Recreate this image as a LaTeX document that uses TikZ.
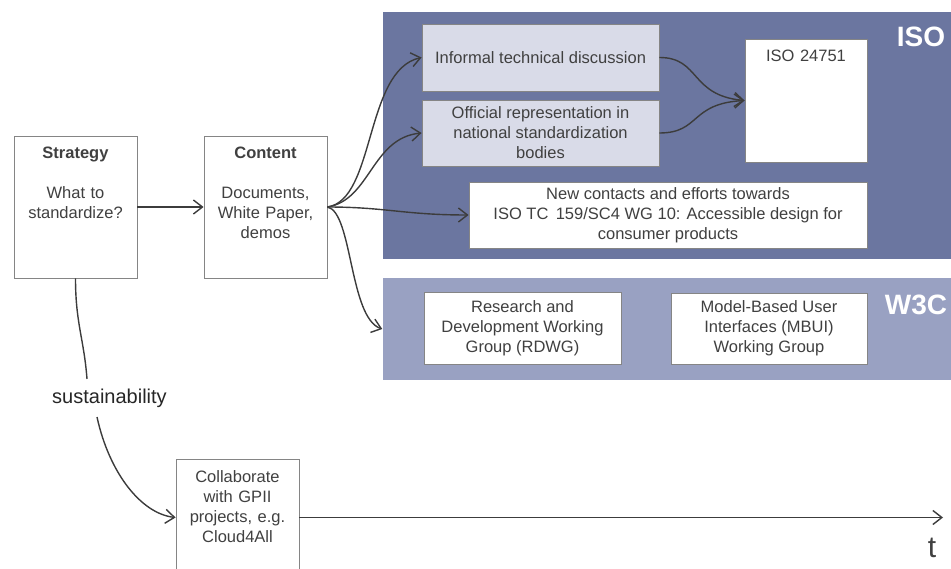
\documentclass[tikz,border=0pt]{standalone}
\usepackage{fontspec}
\setmainfont{Liberation Sans}
\usetikzlibrary{arrows.meta}
\definecolor{isoblue}{HTML}{6B76A0}
\definecolor{wblue}{HTML}{99A1C2}
\definecolor{lightbox}{HTML}{D9DBE8}
\definecolor{boxline}{HTML}{858585}
\definecolor{linegray}{HTML}{3C3C3C}
\definecolor{textgray}{HTML}{404040}
\tikzset{
  box/.style      = {shape=rectangle, draw=boxline, line width=0.9pt,
                     fill=white, text=textgray, align=center,
                     inner xsep=0pt, inner ysep=0pt,
                     font=\fontsize{16.5}{20}\selectfont},
  topbox/.style   = {box, text height=23pt},
  discuss/.style  = {box, fill=lightbox},
  wh/.style 2 args = {minimum width=#1pt, minimum height=#2pt},
  panel/.style    = {shape=rectangle, inner sep=0pt, minimum width=577pt},
  tag/.style      = {text=white, font=\fontsize{28}{30}\selectfont\bfseries},
  link/.style     = {draw=linegray}
}

\begin{document}
\begin{tikzpicture}[x=1pt, y=-1pt, line width=1.4pt,
    -{Straight Barb[length=9pt,width=14pt]}]
  \useasboundingbox (0,0) rectangle (951,569);
  % panels
  \node[panel, fill=isoblue, minimum height=247pt] (iso)  at (671.5,135.5) {};
  \node[panel, fill=wblue,   minimum height=102pt] (w3c)  at (671.5,329) {};
  \node[tag] (isotag) at (921,37)  {ISO};
  \node[tag] (w3ctag) at (916,305) {W3C};
  % boxes
  \node[topbox, text width=123pt, text depth=119pt] (strat)   at (75.5,207)
    {\textbf{Strategy}\\[20pt]What to\\standardize?};
  \node[topbox, text width=123pt, text depth=119pt] (content) at (265.5,207)
    {\textbf{Content}\\[20pt]Documents,\\White Paper,\\demos};
  \node[discuss, wh={237}{67}] (informal) at (540.5,57.5)
    {Informal technical discussion};
  \node[discuss, wh={237}{66}] (official) at (540.5,133)
    {Official representation in\\national standardization\\bodies};
  \node[topbox, text width=122pt, text depth=100pt] (iso24751) at (806,100.5)
    {ISO 24751};
  \node[box, wh={398}{66}] (contacts) at (668,215)
    {New contacts and efforts towards\\ISO TC\, 159/SC4 WG 10: Accessible design for\\consumer products};
  \node[box, wh={197}{72}] (rdwg) at (522.5,328)
    {Research and\\Development Working\\Group (RDWG)};
  \node[box, wh={196}{71}] (mbui) at (769,328.5)
    {Model-Based User\\Interfaces (MBUI)\\Working Group};
  \node[topbox, text width=123pt, text depth=93pt] (collab) at (237.5,517.5)
    {Collaborate\\with GPII\\projects, e.g.\\Cloud4All};
  \node[inner xsep=2pt, inner ysep=9pt, text=black!85,
        font=\fontsize{20}{24}\selectfont] (sust) at (109.5,398) {sustainability};
  \node[text=textgray, font=\fontsize{30}{32}\selectfont] (tlabel) at (932,548) {t};
  \coordinate (tend) at (943,517.5);

  % connectors
  \draw[link] (strat.east) -- (content.west);
  \draw[link] (content.east) .. controls +(48,-7) and +(-57,12.5) .. (informal.west);
  \draw[link] (content.east) .. controls +(43,-7) and +(-50,5) .. (official.west);
  \draw[link] (content.east) .. controls +(58,0) and +(-64,0) .. (contacts.west);
  \draw[link] (content.east) .. controls +(25,5) and +(-33,-11) .. (w3c.west);
  \foreach \src/\bend in {informal/-5, official/3}
    \draw[link] (\src.east) .. controls +(41,0) and +(-55,\bend) .. (iso24751.west);
  \draw[link, -] (strat.south) .. controls +(0,45) and +(-3,-40)
    .. ([xshift=-22.5pt]sust.north);
  \draw[link] ([xshift=-12.5pt]sust.south) .. controls +(12,55) and +(-35,-4)
    .. (collab.west);
  \draw[link] (collab.east) -- (tend);
\end{tikzpicture}
\end{document}
